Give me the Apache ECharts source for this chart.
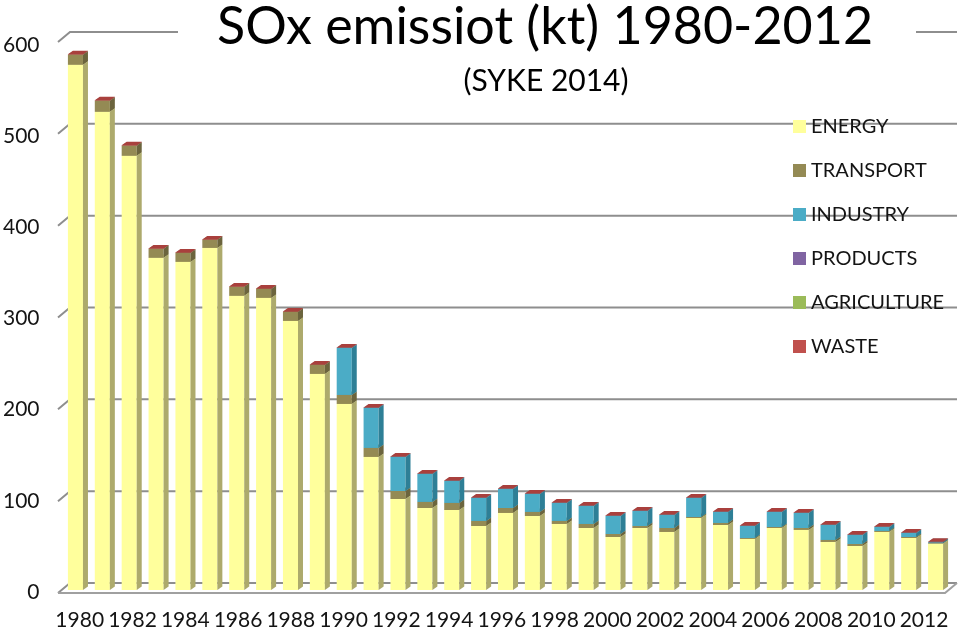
<!DOCTYPE html>
<html>
<head>
<meta charset="utf-8">
<script src="https://cdn.jsdelivr.net/npm/echarts@6/dist/echarts.min.js"></script>
<style>
html,body{margin:0;padding:0;background:#fff;}
#chart{width:960px;height:631px;}
</style>
</head>
<body>
<div id="chart"></div>
<script>
const years = ['1980','1981','1982','1983','1984','1985','1986','1987','1988','1989','1990','1991','1992','1993','1994','1995','1996','1997','1998','1999','2000','2001','2002','2003','2004','2005','2006','2007','2008','2009','2010','2011','2012'];
const energy      = [571.9,520.7,472.8,361.7,357.3,372.5,320.3,318.1,293.0,235.3,202.6,144.9,99.1,89.3,87.1,69.7,83.9,80.6,71.9,67.5,57.7,67.5,63.2,78.4,70.8,55.6,67.5,65.4,52.3,47.9,63.2,56.6,50.5];
const transport   = [10.9,12.0,10.9,9.8,9.8,8.8,9.8,9.8,9.8,9.8,9.8,9.8,8.7,6.6,7.7,5.5,5.4,4.4,3.3,4.4,3.3,2.2,4.3,1.1,2.2,1.0,1.1,2.1,2.2,2.2,1.1,1.1,0.5];
const industry    = [0,0,0,0,0,0,0,0,0,0,51.2,43.6,37.1,30.5,23.9,25.0,20.7,19.6,19.6,19.6,19.6,16.4,14.2,20.7,12.0,13.1,16.4,16.4,16.3,9.8,4.3,4.4,1.0];
const products    = [0,0,0,0,0,0,0,0,0,0,0,0,0,0,0,0,0,0,0,0,0,0,0,0,0,0,0,0,0,0,0,0,0];
const agriculture = [0,0,0,0,0,0,0,0,0,0,0,0,0,0,0,0,0,0,0,0,0,0,0,0,0,0,0,0,0,0,0,0,0];
const waste       = [0.5,0.5,0.5,0.5,0.5,0.5,0.5,0.5,0.5,0.5,0.5,0.5,0.5,0.5,0.5,0.5,0.5,0.5,0.5,0.5,0.5,0.5,0.5,0.5,0.5,0.5,0.5,0.5,0.5,0.5,0.5,0.5,0.5];
const seriesNames = ['ENERGY','TRANSPORT','INDUSTRY','PRODUCTS','AGRICULTURE','WASTE'];
const yTicks = [0,100,200,300,400,500,600];

const seriesValues = [energy, transport, industry, products, agriculture, waste];
const frontColors = ['#FFFF9C','#948A54','#4BACC6','#8064A2','#9BBB59','#C0504D'];
const sideColors  = ['#ADAA6C','#6B643D','#2E7F96','#5C4878','#6F8A3C','#8C3A38'];
const topColors   = ['#E8E88C','#7F7748','#3D97AF','#6D5590','#88A84A','#A9403D'];
const FONT = 'Lato';

function makeRender(s) {
  return function (params, api) {
    const k = api.value(0);
    const v = api.value(1);
    if (!(v > 0)) return null;
    let base = 0;
    for (let j = 0; j < s; j++) base += seriesValues[j][k];
    const p0 = api.coord([k, base]);
    const p1 = api.coord([k, base + v]);
    const band = api.size([1, 0])[0];
    const w = band * 0.56;
    const xl = p0[0] - w / 2, xr = p0[0] + w / 2;
    const yb = p0[1], yt = p1[1];
    const dx = 5, dy = -3.5;
    return {
      type: 'group',
      children: [
        {type: 'rect', shape: {x: xl, y: yt, width: w, height: yb - yt}, style: {fill: frontColors[s]}},
        {type: 'polygon', shape: {points: [[xr, yb], [xr + dx, yb + dy], [xr + dx, yt + dy], [xr, yt]]}, style: {fill: sideColors[s]}},
        {type: 'polygon', shape: {points: [[xl, yt], [xr, yt], [xr + dx, yt + dy], [xl + dx, yt + dy]]}, style: {fill: topColors[s]}}
      ]
    };
  };
}

const barSeries = seriesNames.map((name, s) => ({
  name: name,
  type: 'custom',
  xAxisIndex: 0,
  yAxisIndex: 0,
  z: 3 + s,
  itemStyle: {color: frontColors[s]},
  data: years.map((y, k) => [k, seriesValues[s][k]]),
  renderItem: makeRender(s)
}));

const gridSeries = {
  type: 'custom',
  xAxisIndex: 0,
  yAxisIndex: 0,
  z: 1,
  silent: true,
  data: yTicks.map(v => [0, v]),
  renderItem: function (params, api) {
    const v = api.value(1);
    const y = api.coord([0, v])[1];
    const cs = params.coordSys;
    const L = cs.x, R = cs.x + cs.width;
    const children = [
      {type: 'polyline', shape: {points: [[L - 4, y + 3], [L + 8, y - 7], [R + 8, y - 7]]}, style: {stroke: '#8E8E8E', lineWidth: 2, fill: null}}
    ];
    if (v === 0) {
      children.push({type: 'polyline', shape: {points: [[L - 4, y + 3], [R - 4, y + 3], [R + 8, y - 7]]}, style: {stroke: '#A0A0A0', lineWidth: 2, fill: null}});
    }
    return {type: 'group', children: children};
  }
};

const chart = echarts.init(document.getElementById('chart'), null, {renderer: 'canvas'});
chart.setOption({
  animation: false,
  backgroundColor: '#ffffff',
  textStyle: {fontFamily: FONT},
  grid: [
    {left: 62, right: 11, top: 39, bottom: 41},
    {left: 64.3, right: 22.8, top: 45, bottom: 37}
  ],
  xAxis: [
    {type: 'category', gridIndex: 0, data: years, show: false},
    {type: 'category', gridIndex: 1, data: years,
     axisLine: {show: false}, axisTick: {show: false},
     axisLabel: {interval: 1, fontSize: 21, margin: 18, color: '#141414', fontFamily: FONT}}
  ],
  yAxis: [
    {type: 'value', gridIndex: 0, min: 0, max: 600, interval: 100, show: false},
    {type: 'value', gridIndex: 1, min: 0, max: 600, interval: 100,
     axisLine: {show: false}, axisTick: {show: false}, splitLine: {show: false},
     axisLabel: {fontSize: 21, margin: 27, color: '#141414', fontFamily: FONT}}
  ],
  legend: {
    orient: 'vertical',
    left: 788,
    top: 111.5,
    itemWidth: 13,
    itemHeight: 13,
    itemGap: 24,
    icon: 'rect',
    selectedMode: false,
    data: seriesNames,
    textStyle: {fontSize: 20, lineHeight: 20, color: '#141414', fontFamily: FONT}
  },
  graphic: [
    {type: 'rect', z: 100, shape: {x: 178, y: 14, width: 738, height: 40}, style: {fill: '#ffffff'}},
    {type: 'text', z: 101, x: 545, y: 27, style: {text: 'SOx emissiot (kt) 1980-2012', align: 'center', verticalAlign: 'middle', font: '52px Lato', fill: '#000000'}},
    {type: 'text', z: 101, x: 546, y: 81, style: {text: '(SYKE 2014)', align: 'center', verticalAlign: 'middle', font: '30px Lato', fill: '#000000'}}
  ],
  series: [gridSeries].concat(barSeries)
});
</script>
</body>
</html>
